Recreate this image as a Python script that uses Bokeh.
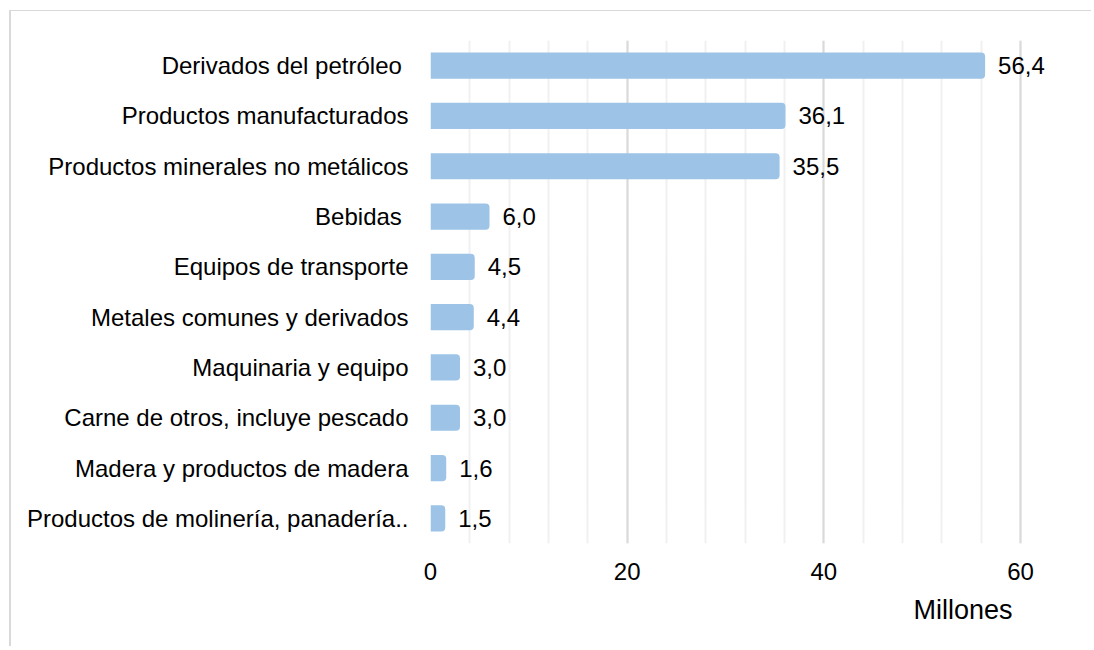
from bokeh.plotting import figure
from bokeh.models import ColumnDataSource, FixedTicker, Title, FactorRange, LabelSet
from bokeh.core.properties import value
from bokeh.embed import file_html
from bokeh.resources import INLINE

categories = [
    "Derivados del petróleo\u00a0",
    "Productos manufacturados",
    "Productos minerales no metálicos",
    "Bebidas\u00a0",
    "Equipos de transporte",
    "Metales comunes y derivados",
    "Maquinaria y equipo",
    "Carne de otros, incluye pescado",
    "Madera y productos de madera",
    "Productos de molinería, panadería..",
]
values = [56.4, 36.1, 35.5, 6.0, 4.5, 4.4, 3.0, 3.0, 1.6, 1.5]
value_labels = ["56,4", "36,1", "35,5", "6,0", "4,5", "4,4", "3,0", "3,0", "1,6", "1,5"]
major_ticks = [0, 20, 40, 60]
minor_ticks = [0, 4, 8, 12, 16, 20, 24, 28, 32, 36, 40, 44, 48, 52, 56, 60]
axis_title = "Millones"

FONT = "Liberation Sans"
FS = "24px"

src = ColumnDataSource(dict(cat=categories, val=values, lab=value_labels))

p = figure(
    width=1082, height=636,
    y_range=FactorRange(factors=list(reversed(categories)), range_padding=0),
    x_range=(0, 66),
    output_backend="svg", toolbar_location=None,
    min_border_left=419, min_border_right=14, min_border_top=29, min_border_bottom=104,
)
p.styles = {"border-left": "2px solid #d9d9d9", "border-top": "1px solid #d9d9d9",
            "margin-left": "9px", "margin-top": "10px"}
p.outline_line_color = None
p.background_fill_color = "white"
p.border_fill_color = "white"

p.hbar(y="cat", left=0, right="val", height=0.52, source=src,
       fill_color="#9dc3e6", line_color=None, border_radius=(0, 4, 4, 0))

p.add_layout(LabelSet(x="val", y="cat", text="lab", source=src, x_offset=13,
                      text_align="left", text_baseline="middle",
                      text_font=value(FONT), text_font_size=FS, text_color="#000000"))

p.xaxis.ticker = FixedTicker(ticks=major_ticks, minor_ticks=minor_ticks)
p.xgrid.ticker = FixedTicker(ticks=major_ticks, minor_ticks=minor_ticks)
p.xgrid.grid_line_color = "#d9d9d9"
p.xgrid.grid_line_width = 2
p.xgrid.minor_grid_line_color = "#f0f0f0"
p.xgrid.minor_grid_line_width = 2
p.ygrid.grid_line_color = None

for ax in (p.xaxis, p.yaxis):
    ax.axis_line_color = None
    ax.major_tick_line_color = None
    ax.minor_tick_line_color = None
    ax.major_tick_out = 0
    ax.minor_tick_out = 0
    ax.major_label_text_font = FONT
    ax.major_label_text_font_size = FS
    ax.major_label_text_color = "#000000"

p.yaxis.major_label_standoff = 22
p.xaxis.major_label_standoff = 19

p.add_layout(Title(text=axis_title, align="right", offset=67, standoff=21,
                   text_font=FONT, text_font_size="27px", text_font_style="normal",
                   text_color="#000000"), "below")

open("out.html", "w").write(file_html(p, INLINE))
